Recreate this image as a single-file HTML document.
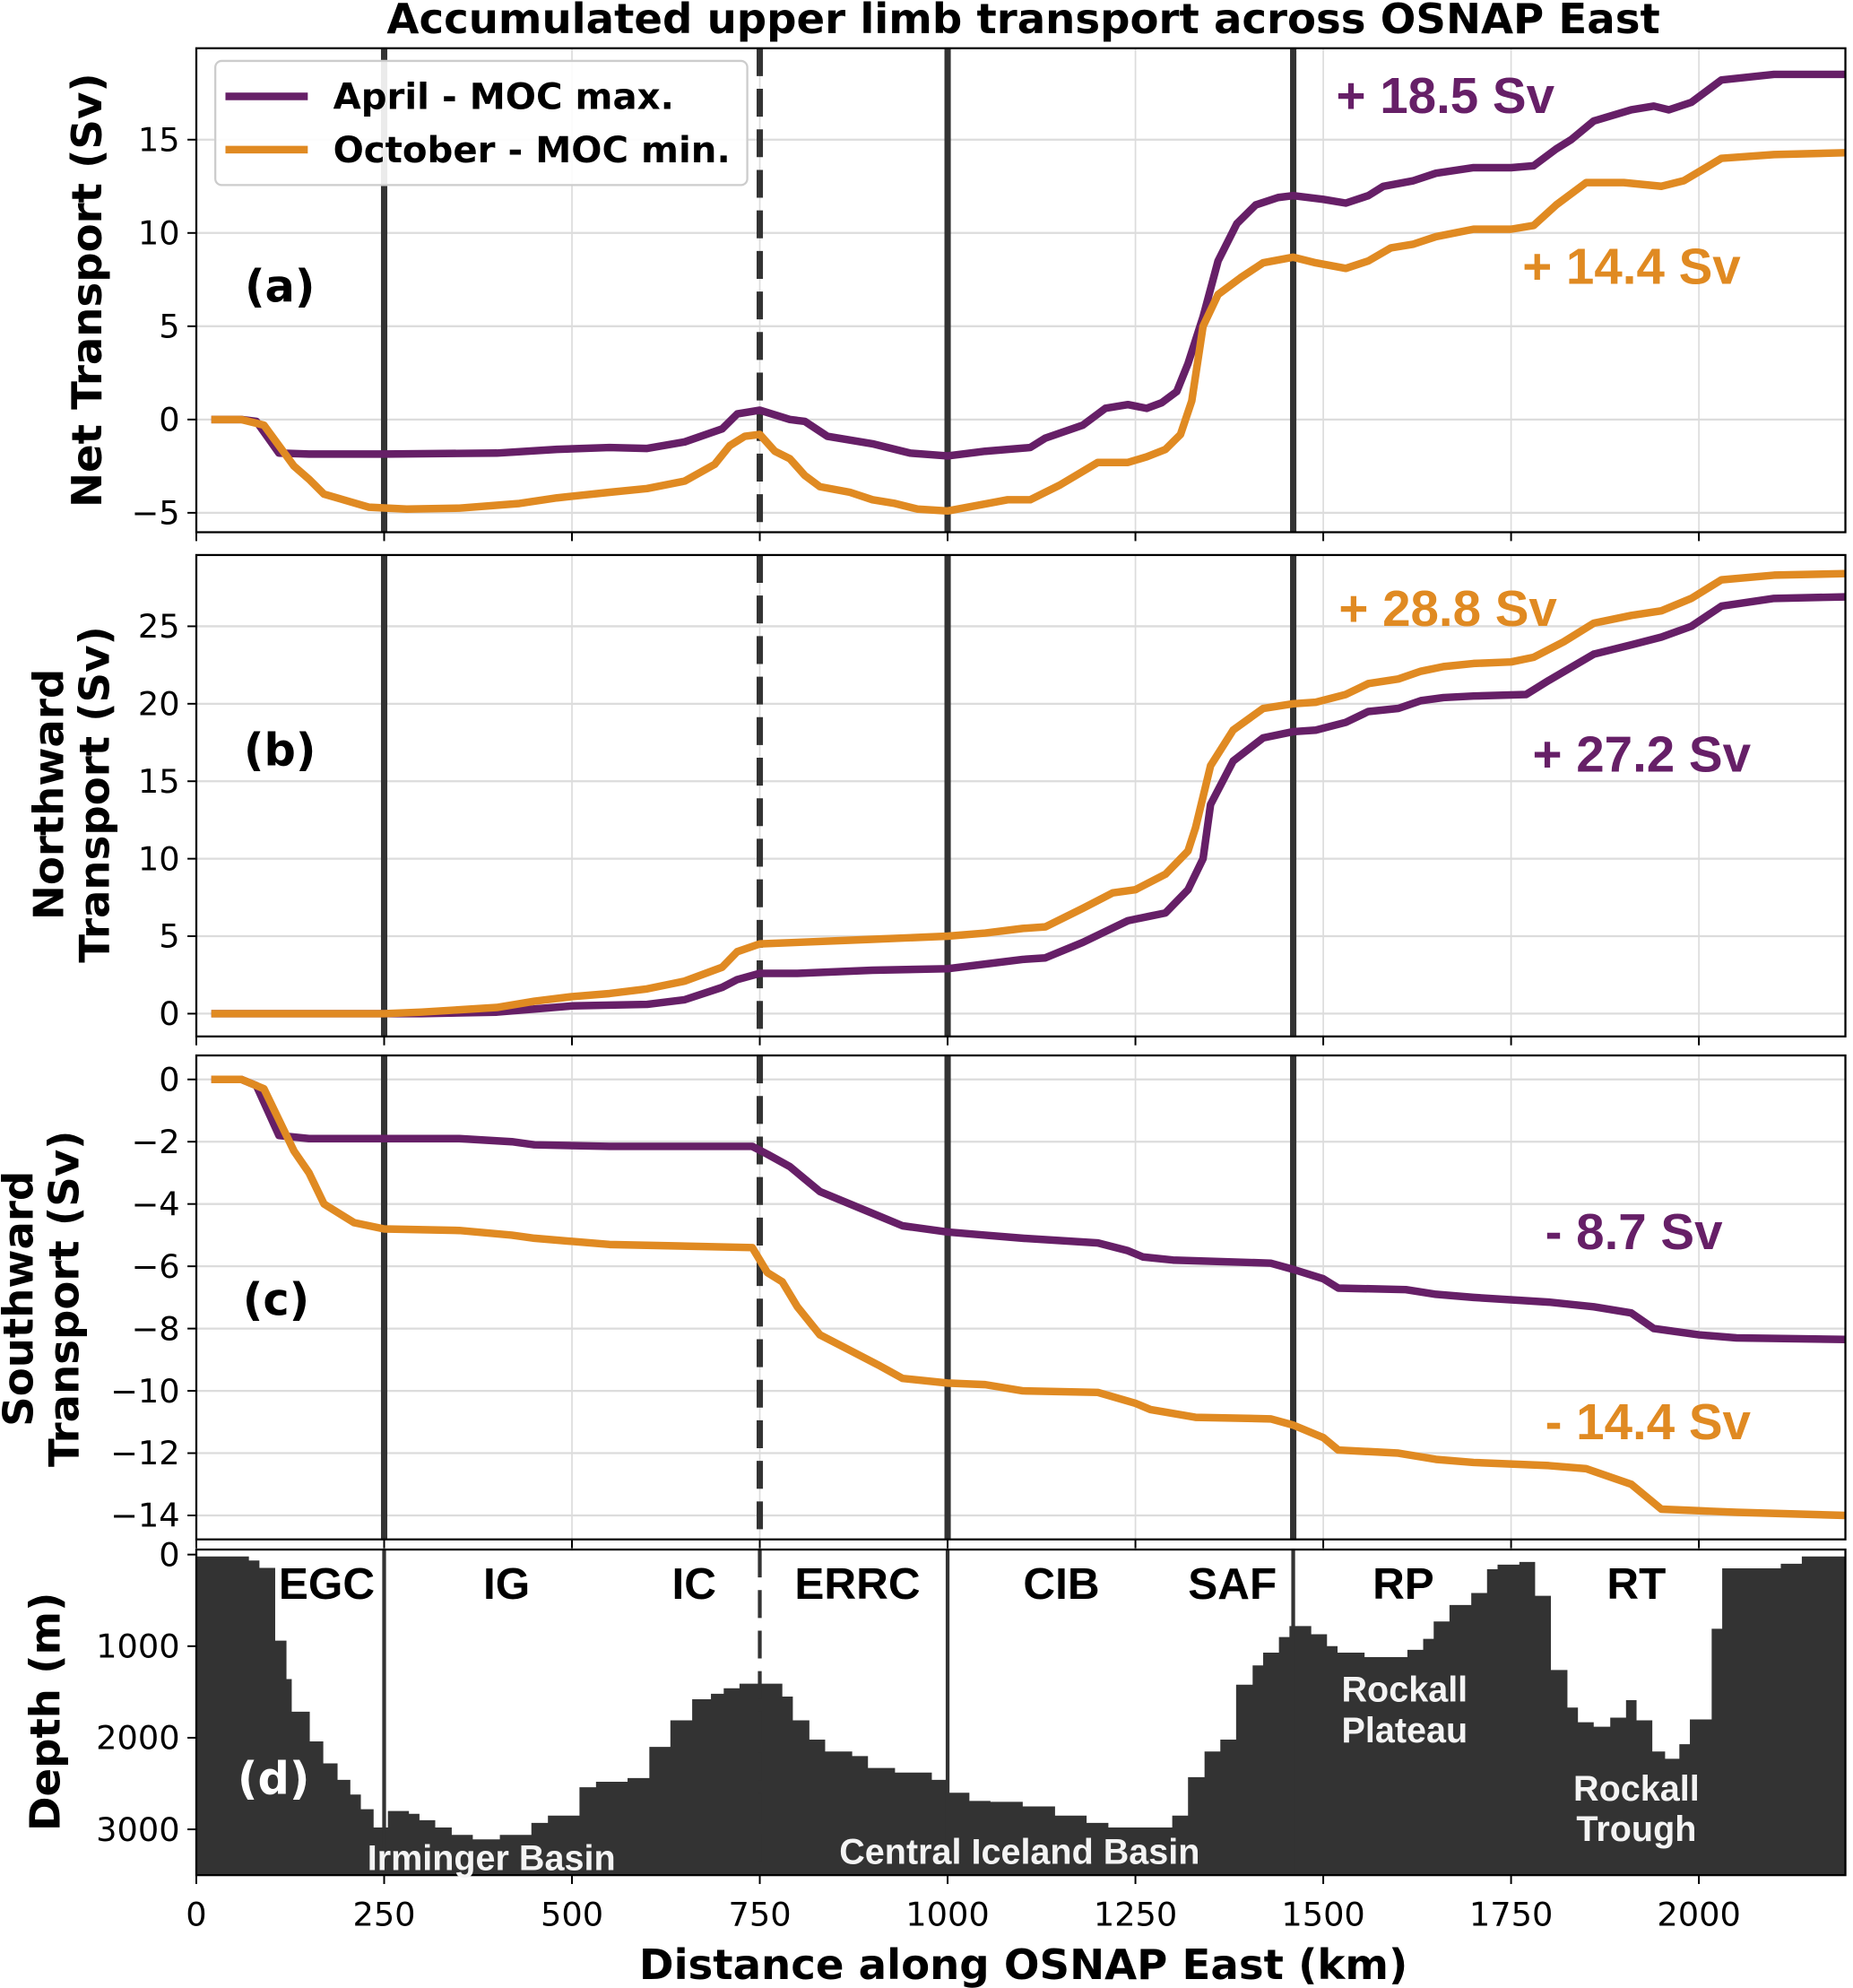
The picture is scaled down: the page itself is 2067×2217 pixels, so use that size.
<!DOCTYPE html>
<html><head><meta charset="utf-8"><style>
html,body{margin:0;padding:0;background:#fff;}
svg{display:block;}
.tk{font-family:"DejaVu Sans","Liberation Sans",sans-serif;font-size:26px;fill:#000;}
.lab{font-family:"DejaVu Sans","Liberation Sans",sans-serif;font-size:33px;font-weight:bold;fill:#000;}
.ann{font-family:"Liberation Sans",sans-serif;font-size:40px;font-weight:bold;}
.reg{font-family:"Liberation Sans",sans-serif;font-size:35px;font-weight:bold;fill:#000;}
.wl{font-family:"Liberation Sans",sans-serif;font-size:28px;font-weight:bold;fill:#f4f4f4;}
</style></head><body>
<svg id="chart" width="2067" height="2217" viewBox="0 0 1463 1569" xmlns="http://www.w3.org/2000/svg">
<text class="lab" x="808" y="26" text-anchor="middle">Accumulated upper limb transport across OSNAP East</text>
<g id="layer"></g>
</svg>
<script>
// ---- data ----
const kmTicks = [0,250,500,750,1000,1250,1500,1750,2000];
const fronts = [250,750,1000,1460];
const aAprKm = [20,60,80,110,150,250,400,480,550,600,650,700,720,750,790,810,840,900,950,1000,1050,1110,1130,1180,1210,1240,1265,1285,1305,1320,1340,1360,1385,1410,1440,1460,1500,1530,1560,1580,1620,1650,1700,1750,1780,1810,1830,1860,1910,1940,1960,1990,2030,2100,2195];
const aAprVal = [0,0,-0.1,-1.8,-1.85,-1.85,-1.8,-1.6,-1.5,-1.55,-1.2,-0.5,0.3,0.5,0,-0.1,-0.9,-1.3,-1.8,-1.95,-1.7,-1.5,-1.0,-0.3,0.6,0.8,0.6,0.9,1.5,3,5.5,8.5,10.5,11.5,11.9,12,11.8,11.6,12,12.5,12.8,13.2,13.5,13.5,13.6,14.5,15,16,16.6,16.8,16.6,17,18.2,18.5,18.5];
const aOctKm = [20,60,90,130,150,170,230,280,350,430,480,550,600,650,690,710,730,750,770,790,810,830,870,900,930,960,1000,1040,1080,1110,1150,1200,1240,1265,1290,1310,1325,1340,1360,1390,1420,1460,1490,1530,1560,1590,1620,1650,1700,1750,1780,1810,1850,1900,1950,1980,2030,2100,2195];
const aOctVal = [0,0,-0.3,-2.5,-3.2,-4,-4.7,-4.8,-4.75,-4.5,-4.2,-3.9,-3.7,-3.3,-2.4,-1.4,-0.9,-0.8,-1.7,-2.1,-3.0,-3.6,-3.9,-4.3,-4.5,-4.8,-4.9,-4.6,-4.3,-4.3,-3.5,-2.3,-2.3,-2.0,-1.6,-0.8,1,5,6.7,7.6,8.4,8.7,8.4,8.1,8.5,9.2,9.4,9.8,10.2,10.2,10.4,11.5,12.7,12.7,12.5,12.8,14,14.2,14.3];
const bOctKm = [20,250,300,400,450,500,550,600,650,700,720,750,800,900,1000,1050,1100,1130,1180,1220,1250,1290,1320,1330,1350,1380,1420,1460,1490,1530,1560,1600,1630,1660,1700,1750,1780,1820,1860,1910,1950,1990,2030,2100,2195];
const bOctVal = [0,0,0.1,0.4,0.8,1.1,1.3,1.6,2.1,3.0,4.0,4.5,4.6,4.8,5.0,5.2,5.5,5.6,6.8,7.8,8,9,10.5,12,16,18.3,19.7,20,20.1,20.6,21.3,21.6,22.1,22.4,22.6,22.7,23,24,25.2,25.7,26.0,26.8,28,28.3,28.4];
const bAprKm = [20,300,400,450,500,600,650,700,720,750,800,900,1000,1050,1100,1130,1180,1210,1240,1270,1290,1320,1340,1350,1380,1420,1460,1490,1530,1560,1600,1630,1660,1700,1770,1800,1860,1910,1950,1990,2030,2100,2195];
const bAprVal = [0,0,0.1,0.3,0.5,0.6,0.9,1.7,2.2,2.6,2.6,2.8,2.9,3.2,3.5,3.6,4.6,5.3,6.0,6.3,6.5,8,10,13.5,16.3,17.8,18.2,18.3,18.8,19.5,19.7,20.2,20.4,20.5,20.6,21.5,23.2,23.8,24.3,25,26.3,26.8,26.9];
const cAprKm = [20,60,80,110,150,350,420,450,550,740,760,790,830,870,910,940,1000,1050,1100,1200,1240,1260,1300,1430,1460,1500,1520,1610,1650,1700,1800,1860,1910,1940,1970,2000,2050,2195];
const cAprVal = [0,0,-0.2,-1.8,-1.9,-1.9,-2.0,-2.1,-2.15,-2.15,-2.4,-2.8,-3.6,-4.0,-4.4,-4.7,-4.9,-5.0,-5.1,-5.25,-5.5,-5.7,-5.8,-5.9,-6.1,-6.4,-6.7,-6.75,-6.9,-7.0,-7.15,-7.3,-7.5,-8.0,-8.1,-8.2,-8.3,-8.35];
const cOctKm = [20,60,90,130,150,170,210,250,350,420,450,550,740,760,780,800,830,870,910,940,1000,1050,1100,1200,1250,1270,1330,1430,1460,1500,1520,1600,1650,1700,1800,1850,1910,1950,2000,2050,2195];
const cOctVal = [0,0,-0.3,-2.3,-3,-4,-4.6,-4.8,-4.85,-5.0,-5.1,-5.3,-5.4,-6.2,-6.5,-7.3,-8.2,-8.7,-9.2,-9.6,-9.75,-9.8,-10.0,-10.05,-10.4,-10.6,-10.85,-10.9,-11.1,-11.5,-11.9,-12.0,-12.2,-12.3,-12.4,-12.5,-13.0,-13.8,-13.85,-13.9,-14.0];
const bathyKm = [0,70,84,105,120,127,151,169,188,205,219,236,255,283,297,318,340,368,404,446,468,510,532,574,603,631,660,685,702,723,780,794,816,837,873,894,930,979,1000,1029,1057,1100,1143,1185,1214,1299,1320,1342,1363,1384,1406,1420,1441,1455,1484,1505,1519,1555,1612,1633,1647,1668,1697,1718,1732,1761,1782,1803,1825,1839,1860,1882,1903,1917,1938,1955,1974,1988,2017,2031,2109,2137,2166];
const bathyDepth = [20,65,145,940,1360,1715,2040,2280,2460,2620,2780,2980,2800,2830,2900,2980,3060,3110,3060,2930,2850,2540,2480,2440,2100,1810,1580,1520,1460,1410,1550,1810,2020,2150,2200,2330,2380,2460,2600,2690,2700,2750,2850,2930,2980,2850,2430,2150,2020,1420,1210,1070,900,780,870,1000,1070,1120,1040,920,730,550,420,160,110,80,450,1260,1670,1830,1880,1780,1590,1810,2150,2230,2070,1800,810,150,100,20,20];
const yTicksA = [-5,0,5,10,15];
const yTicksB = [0,5,10,15,20,25];
const yTicksC = [0,-2,-4,-6,-8,-10,-12,-14];
const yTicksD = [0,1000,2000,3000];

// ---- layout ----
const NS='http://www.w3.org/2000/svg';
const L=155,R=1457,XMIN=0,XMAX=2195;
const PURPLE='#661f67',ORANGE='#e08a22';
const xs=k=>L+(k-XMIN)/(XMAX-XMIN)*(R-L);
const layer=document.getElementById('layer');
function mk(tag,attrs,parent){const e=document.createElementNS(NS,tag);for(const k in attrs)e.setAttribute(k,attrs[k]);(parent||layer).appendChild(e);return e;}
const panels=[
 {id:'a',top:38,bot:420,ymin:-6.04,ymax:19.9,ticks:yTicksA,series:[[aAprKm,aAprVal,PURPLE,'april'],[aOctKm,aOctVal,ORANGE,'october']]},
 {id:'b',top:438,bot:818,ymin:-1.47,ymax:29.6,ticks:yTicksB,series:[[bAprKm,bAprVal,PURPLE,'april'],[bOctKm,bOctVal,ORANGE,'october']]},
 {id:'c',top:833,bot:1215,ymin:-14.77,ymax:0.77,ticks:yTicksC,series:[[cAprKm,cAprVal,PURPLE,'april'],[cOctKm,cOctVal,ORANGE,'october']]},
 {id:'d',top:1223,bot:1480,ymin:3500,ymax:-55,ticks:yTicksD,series:[]}
];
panels.forEach(p=>{
 const ys=v=>p.bot-(v-p.ymin)/(p.ymax-p.ymin)*(p.bot-p.top);
 const g=mk('g',{});
 
 
 if(p.id!=='d'){
  kmTicks.forEach(k=>{const l=mk('line',{x1:xs(k),x2:xs(k),y1:p.top,y2:p.bot,stroke:'#dcdcdc','stroke-width':1.2},g);
   });
  p.ticks.forEach(t=>{const l=mk('line',{x1:L,x2:R,y1:ys(t),y2:ys(t),stroke:'#dcdcdc','stroke-width':1.6},g);
   });
 } else {
  let d='M'+xs(0)+','+p.bot;
  for(let i=0;i<bathyKm.length;i++){const x0=xs(bathyKm[i]);const x1=xs(i+1<bathyKm.length?bathyKm[i+1]:XMAX);const y=ys(bathyDepth[i]);d+=' L'+x0+','+y+' L'+x1+','+y;}
  d+=' L'+xs(XMAX)+','+p.bot+' Z';
  const b=mk('path',{d:d,fill:'#333333'},g);
  
 }
 fronts.forEach((f,i)=>{
  const l=mk('line',{x1:xs(f),x2:xs(f),y1:p.top,y2:p.bot,stroke:'#333','stroke-width':p.id==='d'?3:5},g);
  if(f===750)l.setAttribute('stroke-dasharray','22,10');
  
 });
 p.series.forEach(s=>{
  const pts=s[0].map((k,i)=>xs(k)+','+ys(s[1][i])).join(' ');
  const pl=mk('polyline',{points:pts,fill:'none',stroke:s[2],'stroke-width':6,'stroke-linejoin':'round'},g);
  
 });
 const fr=mk('rect',{x:L,y:p.top,width:R-L,height:p.bot-p.top,fill:'none',stroke:'#000','stroke-width':1.6},g);
 
 p.ticks.forEach(t=>{
  mk('line',{x1:L-7,x2:L,y1:ys(t),y2:ys(t),stroke:'#000','stroke-width':1.4},g);
  const tx=mk('text',{x:L-13,y:ys(t)+9,'text-anchor':'end',class:'tk'},g);
  tx.textContent=(t<0?'\u2212'+(-t):''+t);
  
 });
 kmTicks.forEach(k=>{mk('line',{x1:xs(k),x2:xs(k),y1:p.bot,y2:p.bot+7,stroke:'#000','stroke-width':1.4},g);});
});
kmTicks.forEach(k=>{const t=mk('text',{x:xs(k),y:1520,'text-anchor':'middle',class:'tk'});t.textContent=k;
 });
function txt(s,x,y,cls,name,extra){const t=mk('text',Object.assign({x:x,y:y,class:cls},extra||{}));t.textContent=s;return t;}
txt('Distance along OSNAP East (km)',808,1562,'lab','x-axis-title',{'text-anchor':'middle'});
txt('Net Transport (Sv)',0,0,'lab','y-axis-title-a',{'text-anchor':'middle',transform:'translate(80,229) rotate(-90)'});
txt('Northward',0,0,'lab','y-axis-title-b-1',{'text-anchor':'middle',transform:'translate(50,627) rotate(-90)'});
txt('Transport (Sv)',0,0,'lab','y-axis-title-b-2',{'text-anchor':'middle',transform:'translate(86,627) rotate(-90)'});
txt('Southward',0,0,'lab','y-axis-title-c-1',{'text-anchor':'middle',transform:'translate(26,1025) rotate(-90)'});
txt('Transport (Sv)',0,0,'lab','y-axis-title-c-2',{'text-anchor':'middle',transform:'translate(62,1025) rotate(-90)'});
txt('Depth (m)',0,0,'lab','y-axis-title-d',{'text-anchor':'middle',transform:'translate(47,1351) rotate(-90)'});
txt('(a)',221,238,'lab','panel-label-a',{'text-anchor':'middle',style:'font-size:35px'});
txt('(b)',221,604,'lab','panel-label-b',{'text-anchor':'middle',style:'font-size:35px'});
txt('(c)',218,1038,'lab','panel-label-c',{'text-anchor':'middle',style:'font-size:35px'});
txt('(d)',216,1416,'lab','panel-label-d',{'text-anchor':'middle',style:'font-size:35px;fill:#fff'});
txt('+ 18.5 Sv',1055,89,'ann','annotation-april-net',{fill:PURPLE});
txt('+ 14.4 Sv',1202,224,'ann','annotation-october-net',{fill:ORANGE});
txt('+ 28.8 Sv',1057,494,'ann','annotation-october-north',{fill:ORANGE});
txt('+ 27.2 Sv',1210,609,'ann','annotation-april-north',{fill:PURPLE});
txt('- 8.7 Sv',1220,986,'ann','annotation-april-south',{fill:PURPLE});
txt('- 14.4 Sv',1220,1136,'ann','annotation-october-south',{fill:ORANGE});
[['EGC',258],['IG',400],['IC',548],['ERRC',677],['CIB',838],['SAF',973],['RP',1108],['RT',1292]].forEach(r=>txt(r[0],r[1],1262,'reg','region-label-'+r[0].toLowerCase(),{'text-anchor':'middle'}));
txt('Irminger Basin',388,1476,'wl','basin-label-irminger',{'text-anchor':'middle'});
txt('Central Iceland Basin',805,1471,'wl','basin-label-central-iceland',{'text-anchor':'middle'});
txt('Rockall',1109,1343,'wl','basin-label-rockall-plateau-1',{'text-anchor':'middle'});
txt('Plateau',1109,1375,'wl','basin-label-rockall-plateau-2',{'text-anchor':'middle'});
txt('Rockall',1292,1421,'wl','basin-label-rockall-trough-1',{'text-anchor':'middle'});
txt('Trough',1292,1453,'wl','basin-label-rockall-trough-2',{'text-anchor':'middle'});
const lg=mk('g',{});

mk('rect',{x:170,y:48,width:420,height:98,rx:5,fill:'#fff','fill-opacity':0.9,stroke:'#cccccc','stroke-width':1.6},lg);
mk('line',{x1:178,x2:243,y1:76,y2:76,stroke:PURPLE,'stroke-width':6},lg);
mk('line',{x1:178,x2:243,y1:118,y2:118,stroke:ORANGE,'stroke-width':6},lg);
const l1=mk('text',{x:263,y:86,class:'lab',style:'font-size:28.5px'},lg);l1.textContent='April - MOC max.';

const l2=mk('text',{x:263,y:128,class:'lab',style:'font-size:28.5px'},lg);l2.textContent='October - MOC min.';

</script>
</body></html>
